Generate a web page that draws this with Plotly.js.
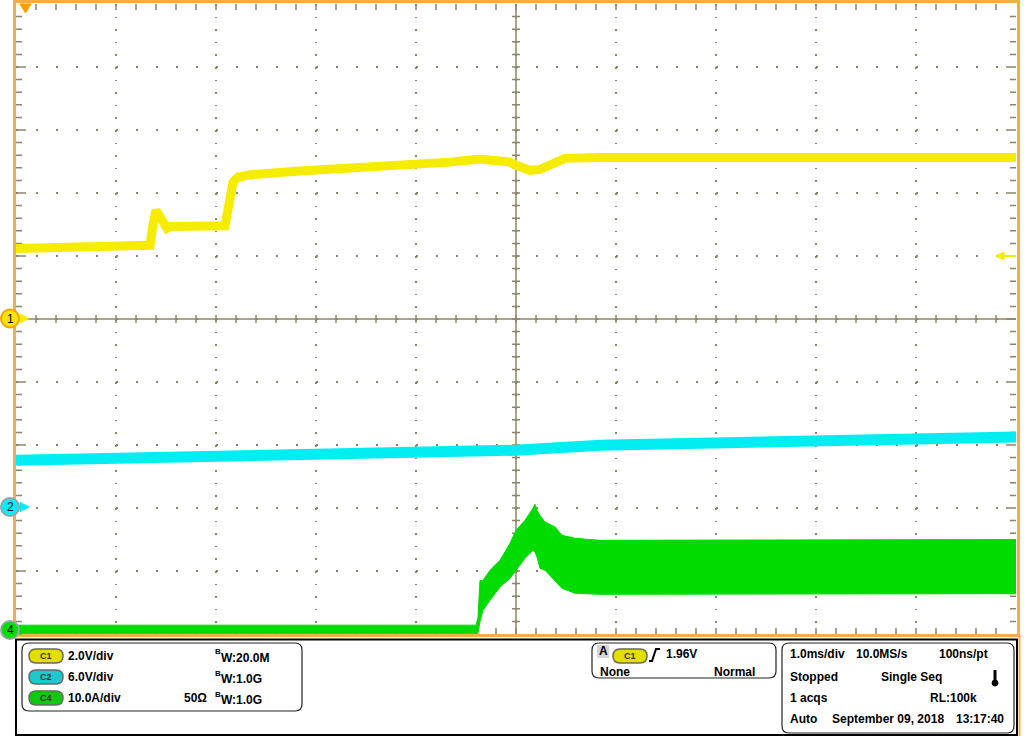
<!DOCTYPE html>
<html>
<head>
<meta charset="utf-8">
<script src="https://cdn.plot.ly/plotly-3.0.1.min.js"></script>
<style>html,body{margin:0;padding:0;background:#fff;}#chart{width:1024px;height:736px;}</style>
</head>
<body>
<div id="chart"></div>
<script>
// ---- data (time in ms, centre of screen = 0) ----
// Channel 1 (V), 2.0 V/div, offset 0 div
const c1_t = [-5.0, -3.66, -3.63, -3.60, -3.49, -3.46, -2.91, -2.87, -2.83, -2.78, -2.66, -2.16, -1.66, -1.16, -0.66, -0.36, -0.16, -0.06, 0.0, 0.14, 0.24, 0.34, 0.49, 0.84, 5.0];
const c1_v = [2.24, 2.34, 3.00, 3.45, 2.88, 2.94, 2.96, 3.90, 4.35, 4.50, 4.58, 4.70, 4.78, 4.88, 4.98, 5.08, 5.05, 4.98, 4.88, 4.72, 4.75, 4.88, 5.10, 5.13, 5.13];
// Channel 2 (V), 6.0 V/div, offset -3 div
const c2_t = [-5.0, -3.46, -2.16, -1.16, -0.06, 0.0, 0.84, 1.84, 2.84, 3.84, 5.0];
const c2_v = [4.54, 4.86, 5.02, 5.33, 5.66, 5.50, 5.97, 6.16, 6.29, 6.64, 6.76];
// Channel 4 (A), 10.0 A/div, offset -5 div : envelope of the switching ripple
const c4_t  = [-5.0, -0.40, -0.38, -0.36, -0.33, -0.26, -0.16, -0.06, 0.0, 0.09, 0.17, 0.19, 0.21, 0.24, 0.29, 0.39, 0.46, 0.59, 0.84, 5.0];
const c4_hi = [1.4, 1.4, 2.65, 8.5, 8.5, 10.1, 11.7, 14.4, 16.46, 18.05, 19.95, 20.59, 19.63, 18.8, 17.78, 16.98, 15.67, 15.19, 14.87, 15.0];
const c4_lo = [0.1, 0.1, 0.1, 2.0, 3.76, 5.35, 7.46, 8.84, 10.11, 12.02, 13.29, 13.0, 12.22, 10.43, 10.11, 8.52, 7.25, 6.46, 6.30, 6.40];

const ch1 = {scale: 2.0, offset: 0};
const ch2 = {scale: 6.0, offset: -3};
const ch4 = {scale: 10.0, offset: -5};
const toDiv = (arr, ch) => arr.map(v => v / ch.scale + ch.offset);

// ---- geometry helpers (pixel -> paper) ----
const L = 16, T = 4, W = 1000, H = 630;
const X = x => (x - L) / W;
const Y = y => (T + H - y) / H;
const ORANGE = '#f7ad45', GRID = '#8f8468';

function rr(x0, y0, x1, y1, r) {
  return `M${X(x0 + r)},${Y(y0)} L${X(x1 - r)},${Y(y0)} Q${X(x1)},${Y(y0)} ${X(x1)},${Y(y0 + r)} ` +
         `L${X(x1)},${Y(y1 - r)} Q${X(x1)},${Y(y1)} ${X(x1 - r)},${Y(y1)} L${X(x0 + r)},${Y(y1)} ` +
         `Q${X(x0)},${Y(y1)} ${X(x0)},${Y(y1 - r)} L${X(x0)},${Y(y0 + r)} Q${X(x0)},${Y(y0)} ${X(x0 + r)},${Y(y0)} Z`;
}
function pxPath(pts, close) {
  return pts.map((p, i) => (i ? 'L' : 'M') + X(p[0]) + ',' + Y(p[1])).join(' ') + (close ? ' Z' : '');
}

// ---- traces ----
const traces = [
  {x: c4_t, y: toDiv(c4_lo, ch4), mode: 'lines', line: {color: '#00dc00', width: 1}, hoverinfo: 'skip'},
  {x: c4_t, y: toDiv(c4_hi, ch4), mode: 'lines', fill: 'tonexty', fillcolor: '#00dc00', line: {color: '#00dc00', width: 1}, hoverinfo: 'skip'},
  {x: c2_t, y: toDiv(c2_v, ch2), mode: 'lines', line: {color: '#00eef2', width: 11}, hoverinfo: 'skip'},
  {x: c1_t, y: toDiv(c1_v, ch1), mode: 'lines', line: {color: '#f5ec00', width: 9}, hoverinfo: 'skip'}
];

// ---- graticule ticks (data coords, divisions) ----
let tickPath = '';
const dx = 0.2, dy = 0.2;
for (let k = 1; k < 50; k++) {
  const x = -5 + k * dx;
  tickPath += `M${x},-0.064 L${x},0.064 `;           // centre horizontal
  tickPath += `M${x},5 L${x},4.905 M${x},-5 L${x},-4.905 `; // top / bottom edges
}
for (let k = 1; k < 50; k++) {
  const y = -5 + k * dy;
  const major = (k % 5 === 0);
  const len = major ? 0.1 : 0.06;
  tickPath += `M-0.04,${y} L0.04,${y} `;             // centre vertical
  tickPath += `M-5,${y} L${-5 + len},${y} M5,${y} L${5 - len},${y} `;
}

const shapes = [
  {type: 'path', xref: 'x', yref: 'y', path: tickPath, line: {color: GRID, width: 1.5}, layer: 'below'},
  {type: 'line', xref: 'x', yref: 'y', x0: -5, x1: 5, y0: 0, y1: 0, line: {color: GRID, width: 1.5}, layer: 'below'},
  {type: 'line', xref: 'x', yref: 'y', x0: 0, x1: 0, y0: -5, y1: 5, line: {color: GRID, width: 1.5}, layer: 'below'},
  // orange screen border
  {type: 'rect', xref: 'paper', yref: 'paper', x0: X(14.5), x1: X(1018.5), y0: Y(635.5), y1: Y(1.5), line: {color: ORANGE, width: 3}},
  {type: 'line', xref: 'paper', yref: 'paper', x0: X(1019.5), x1: X(1019.5), y0: Y(635), y1: Y(736), line: {color: ORANGE, width: 2}},
  // bottom panel frame
  {type: 'rect', xref: 'paper', yref: 'paper', x0: X(16), x1: X(1017), y0: Y(735), y1: Y(639.5), line: {color: '#000', width: 2}},
  {type: 'path', xref: 'paper', yref: 'paper', path: rr(22, 643, 302, 711, 7), line: {color: '#222', width: 1.2}},
  {type: 'path', xref: 'paper', yref: 'paper', path: rr(592, 643, 776, 678, 7), line: {color: '#222', width: 1.2}},
  {type: 'path', xref: 'paper', yref: 'paper', path: rr(782, 643, 1014, 733, 7), line: {color: '#222', width: 1.2}},
  // trigger position marker (top) and trigger level arrow (right)
  {type: 'path', xref: 'paper', yref: 'paper', path: pxPath([[20, 4], [31, 4], [25.5, 13]], true), fillcolor: '#f7a000', line: {color: '#f7a000', width: 1}},
  {type: 'path', xref: 'paper', yref: 'paper', path: pxPath([[996, 256], [1004, 252], [1004, 260]], true), fillcolor: '#f5ec00', line: {color: '#f5ec00', width: 1}},
  {type: 'line', xref: 'paper', yref: 'paper', x0: X(1003), x1: X(1016), y0: Y(256), y1: Y(256), line: {color: '#f5ec00', width: 2}},
  // channel ground markers
  {type: 'path', xref: 'paper', yref: 'paper', path: pxPath([[20, 314], [29, 318.5], [20, 323]], true), fillcolor: '#f5ec00', line: {color: '#f5ec00', width: 1}},
  {type: 'circle', xref: 'paper', yref: 'paper', x0: X(1), x1: X(19), y0: Y(327.5), y1: Y(309.5), fillcolor: '#ffe600', line: {color: '#f5a300', width: 2}},
  {type: 'path', xref: 'paper', yref: 'paper', path: pxPath([[20, 502.5], [29, 507], [20, 511.5]], true), fillcolor: '#00eef2', line: {color: '#00eef2', width: 1}},
  {type: 'circle', xref: 'paper', yref: 'paper', x0: X(1), x1: X(19), y0: Y(516), y1: Y(498), fillcolor: '#00f0ff', line: {color: '#9aa4a8', width: 2}},
  {type: 'path', xref: 'paper', yref: 'paper', path: pxPath([[20, 625.5], [29, 630], [20, 634.5]], true), fillcolor: '#00dc00', line: {color: '#00dc00', width: 1}},
  {type: 'circle', xref: 'paper', yref: 'paper', x0: X(1), x1: X(19), y0: Y(639), y1: Y(621), fillcolor: '#00e000', line: {color: '#9aa4a8', width: 2}},
  // channel pills
  {type: 'path', xref: 'paper', yref: 'paper', path: rr(29, 649, 63, 663, 7), fillcolor: '#e2de00', line: {color: '#6a6a58', width: 1.5}},
  {type: 'path', xref: 'paper', yref: 'paper', path: rr(29, 670, 63, 684, 7), fillcolor: '#1ec8cc', line: {color: '#6a6a6a', width: 1.5}},
  {type: 'path', xref: 'paper', yref: 'paper', path: rr(29, 691, 63, 705, 7), fillcolor: '#10c810', line: {color: '#6a6a6a', width: 1.5}},
  {type: 'rect', xref: 'paper', yref: 'paper', x0: X(597), x1: X(609), y0: Y(658), y1: Y(645), fillcolor: '#d6d6d6', line: {width: 0}},
  {type: 'path', xref: 'paper', yref: 'paper', path: rr(613, 649, 647, 663, 7), fillcolor: '#e2de00', line: {color: '#6a6a58', width: 1.5}},
  // rising edge symbol
  {type: 'path', xref: 'paper', yref: 'paper', path: pxPath([[649, 661], [652, 661], [656, 649], [660, 649]]), line: {color: '#000', width: 2}},
  // thermometer icon
  {type: 'line', xref: 'paper', yref: 'paper', x0: X(995), x1: X(995), y0: Y(670), y1: Y(682), line: {color: '#000', width: 3}},
  {type: 'circle', xref: 'paper', yref: 'paper', x0: X(992), x1: X(998), y0: Y(686), y1: Y(680), fillcolor: '#000', line: {color: '#000', width: 1}}
];

const F = 'Liberation Sans, Arial, sans-serif';
function txt(x, y, text, opts) {
  return Object.assign({xref: 'paper', yref: 'paper', x: X(x), y: Y(y), text: text, showarrow: false,
    xanchor: 'left', yanchor: 'middle', font: {family: F, size: 12, color: '#000', weight: 'bold'}, borderpad: 0}, opts || {});
}
const bw = (x, y, val) => [
  txt(x, y - 4, '<b>B</b>', {font: {family: F, size: 8, color: '#000', weight: 'bold'}}),
  txt(x + 6, y + 2, '<b>W:' + val + '</b>')
];
const annotations = [
  txt(10, 318.5, '1', {xanchor: 'center', font: {family: F, size: 12, color: '#000'}}),
  txt(10, 507, '2', {xanchor: 'center', font: {family: F, size: 12, color: '#000'}}),
  txt(10, 630, '4', {xanchor: 'center', font: {family: F, size: 12, color: '#000'}}),
  txt(46, 656, '<b>C1</b>', {xanchor: 'center', font: {family: F, size: 9, color: '#333', weight: 'bold'}}),
  txt(46, 677, '<b>C2</b>', {xanchor: 'center', font: {family: F, size: 9, color: '#333', weight: 'bold'}}),
  txt(46, 698, '<b>C4</b>', {xanchor: 'center', font: {family: F, size: 9, color: '#333', weight: 'bold'}}),
  txt(67, 656, '<b>2.0V/div</b>'),
  txt(67, 677, '<b>6.0V/div</b>'),
  txt(67, 698, '<b>10.0A/div</b>'),
  txt(183, 698, '<b>50Ω</b>'),
  ...bw(214, 656, '20.0M'),
  ...bw(214, 677, '1.0G'),
  ...bw(214, 698, '1.0G'),
  txt(603, 651.5, '<b>A</b>', {xanchor: 'center'}),
  txt(630, 656, '<b>C1</b>', {xanchor: 'center', font: {family: F, size: 9, color: '#333', weight: 'bold'}}),
  txt(665, 654, '<b>1.96V</b>'),
  txt(599, 672, '<b>None</b>'),
  txt(756, 672, '<b>Normal</b>', {xanchor: 'right'}),
  txt(789, 654, '<b>1.0ms/div</b>'),
  txt(855, 654, '<b>10.0MS/s</b>'),
  txt(989, 654, '<b>100ns/pt</b>', {xanchor: 'right'}),
  txt(789, 676.5, '<b>Stopped</b>'),
  txt(880, 676.5, '<b>Single Seq</b>'),
  txt(789, 697.5, '<b>1 acqs</b>'),
  txt(978, 697.5, '<b>RL:100k</b>', {xanchor: 'right'}),
  txt(789, 718.5, '<b>Auto</b>'),
  txt(831, 718.5, '<b>September 09, 2018</b>'),
  txt(1005, 718.5, '<b>13:17:40</b>', {xanchor: 'right'})
];

const axisCommon = {range: [-5, 5], showticklabels: false, ticks: '', zeroline: false, showline: false,
  showgrid: true, gridcolor: GRID, gridwidth: 1.5, tick0: -5, dtick: 1, fixedrange: true};

const layout = {
  width: 1024, height: 736,
  margin: {l: L, r: 1024 - L - W, t: T, b: 736 - T - H},
  paper_bgcolor: '#fff', plot_bgcolor: '#fff',
  showlegend: false,
  xaxis: Object.assign({}, axisCommon, {griddash: '1.5px,11.1px'}),
  yaxis: Object.assign({}, axisCommon, {griddash: '1.5px,18.5px'}),
  shapes: shapes,
  annotations: annotations
};

Plotly.newPlot('chart', traces, layout, {staticPlot: true, displayModeBar: false});
</script>
</body>
</html>
